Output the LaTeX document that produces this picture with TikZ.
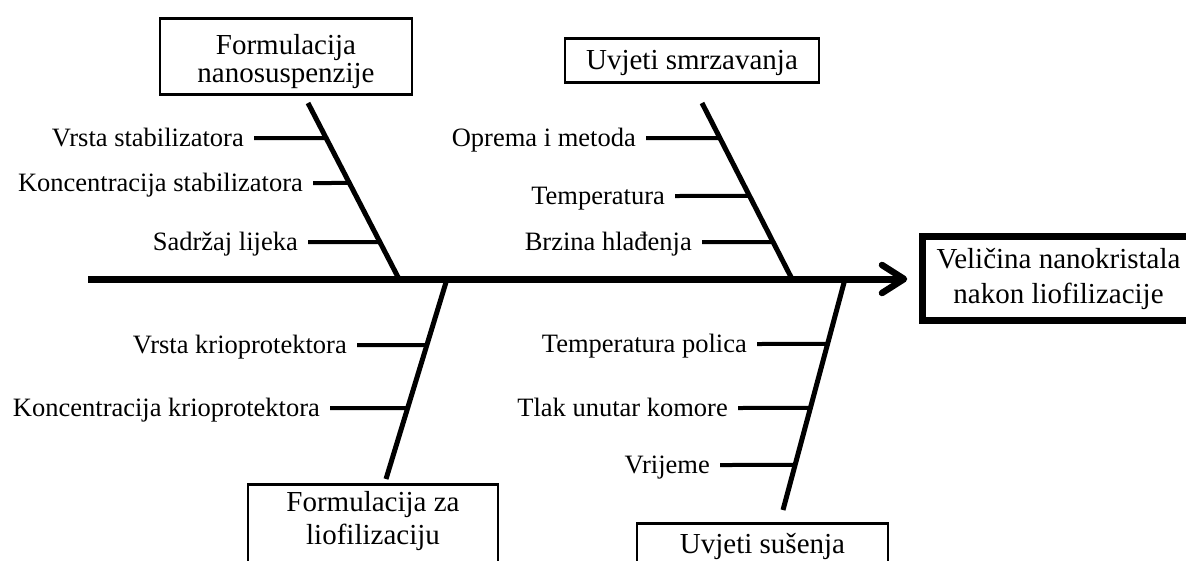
\documentclass[tikz,border=0pt]{standalone}
\usepackage{fontspec}
\setmainfont{Liberation Serif}
\begin{document}
\begin{tikzpicture}[x=1pt,y=-1pt,
  lbl/.style={font=\fontsize{26.5}{30}\selectfont, inner sep=0pt, anchor=east, text height=20pt, text depth=4pt},
  box/.style={draw, line width=2.5pt, inner xsep=0pt, inner ysep=0pt, align=center, font=\fontsize{29}{28}\selectfont},
  spine/.style={line width=7pt},
  bone/.style={line width=5pt},
  twig/.style={line width=4pt}]
\useasboundingbox (0,0) rectangle (1186,560);
\clip (0,0) rectangle (1186,560);
% boxes
\node[box, anchor=north, minimum width=252pt] (F1) at (286,17)
  {\rule{0pt}{36pt}Formulacija\\nanosuspenzije\rule[-12pt]{0pt}{12pt}};
\node[box, anchor=north, minimum width=254pt, text height=31pt, text depth=13pt] (F2) at (692,37) {Uvjeti smrzavanja};
\node[box, anchor=north, minimum width=250pt, font=\fontsize{29}{33}\selectfont] (F3) at (373,483)
  {\rule{0pt}{27pt}Formulacija za\\liofilizaciju\rule[-40pt]{0pt}{40pt}};
\node[box, anchor=north, minimum width=251pt, text height=30pt, text depth=40pt] (F4) at (762.5,522) {Uvjeti sušenja};
\node[box, line width=7pt, anchor=north west, minimum width=272pt, font=\fontsize{29}{35}\selectfont] (E) at (919,233)
  {\rule{0pt}{32pt}Veličina nanokristala\\nakon liofilizacije\rule[-17pt]{0pt}{17pt}};
% spine
\coordinate (s0) at (88,279);
\coordinate (tip) at (904,279);
\draw[spine] (s0) -- (tip);
\coordinate (h1) at (882,265);
\coordinate (h2) at (882,293);
\draw[line width=6.5pt, line cap=round, line join=round] (h1) -- (tip) -- (h2);
% bones
\coordinate (t1) at (308,103); \coordinate (b1) at (399,279);
\coordinate (t2) at (702,103); \coordinate (b2) at (792,279);
\coordinate (t3) at (447,279); \coordinate (b3) at (386,479);
\coordinate (t4) at (845,279); \coordinate (b4) at (783,510);
\draw[bone] (t1) -- (b1);
\draw[bone] (t2) -- (b2);
\draw[bone] (t3) -- (b3);
\draw[bone] (t4) -- (b4);
\path (t1) -- (b1) coordinate[pos=0.199] (p11) coordinate[pos=0.4545] (p12) coordinate[pos=0.79] (p13);
\path (t2) -- (b2) coordinate[pos=0.199] (p21) coordinate[pos=0.528] (p22) coordinate[pos=0.79] (p23);
\path (t3) -- (b3) coordinate[pos=0.33] (p31) coordinate[pos=0.645] (p32);
\path (t4) -- (b4) coordinate[pos=0.281] (p41) coordinate[pos=0.558] (p42) coordinate[pos=0.805] (p43);
% labels
\node[lbl] (a1) at (244,138) {Vrsta stabilizatora};
\node[lbl] (a2) at (303,183) {Koncentracija stabilizatora};
\node[lbl] (a3) at (298,242) {Sadržaj lijeka};
\node[lbl] (c1) at (636,138) {Oprema i metoda};
\node[lbl] (c2) at (665,196) {Temperatura};
\node[lbl] (c3) at (692,242) {Brzina hlađenja};
\node[lbl] (k1) at (347,345) {Vrsta krioprotektora};
\node[lbl] (k2) at (320,408) {Koncentracija krioprotektora};
\node[lbl] (d1) at (747,344) {Temperatura polica};
\node[lbl] (d2) at (728,408) {Tlak unutar komore};
\node[lbl] (d3) at (710,465) {Vrijeme};
% twigs
\draw[twig] ([xshift=10pt]a1.east) -- (p11);
\draw[twig] ([xshift=10pt]a2.east) -- (p12);
\draw[twig] ([xshift=10pt]a3.east) -- (p13);
\draw[twig] ([xshift=10pt]c1.east) -- (p21);
\draw[twig] ([xshift=10pt]c2.east) -- (p22);
\draw[twig] ([xshift=10pt]c3.east) -- (p23);
\draw[twig] ([xshift=10pt]k1.east) -- (p31);
\draw[twig] ([xshift=10pt]k2.east) -- (p32);
\draw[twig] ([xshift=10pt]d1.east) -- (p41);
\draw[twig] ([xshift=10pt]d2.east) -- (p42);
\draw[twig] ([xshift=10pt]d3.east) -- (p43);
\end{tikzpicture}
\end{document}
